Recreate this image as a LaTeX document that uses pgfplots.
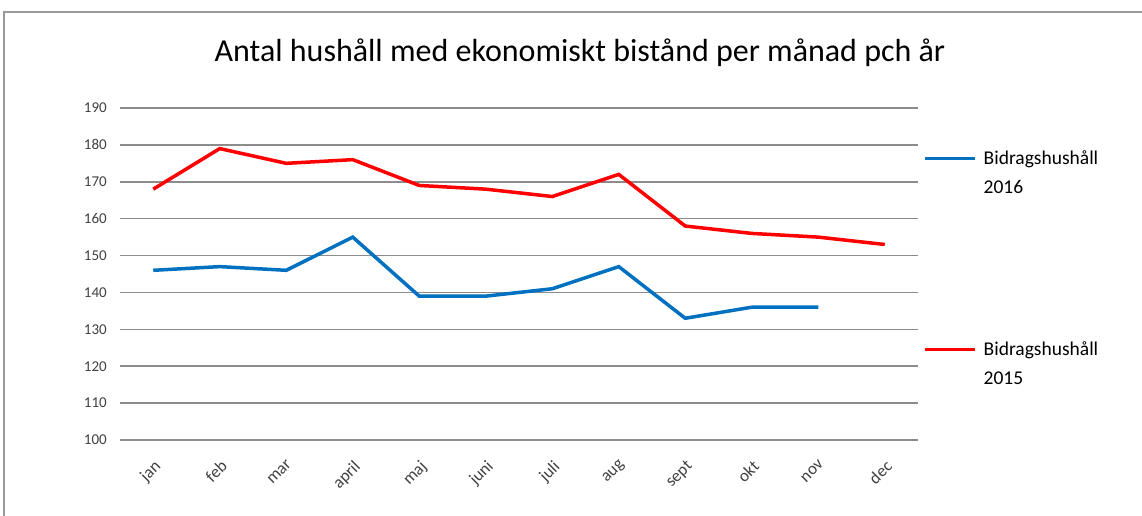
\documentclass[border=0pt]{standalone}
\usepackage{pgfplots}
\pgfplotsset{compat=1.18}
\usepackage{fontspec}
\setmainfont{Carlito}
\definecolor{gridgray}{RGB}{140,140,140}
\definecolor{ticktext}{RGB}{64,64,64}
\definecolor{xlblue}{RGB}{0,112,192}
\definecolor{xlred}{RGB}{255,0,0}
\begin{document}
\begin{tikzpicture}
\path[use as bounding box] (0pt,0pt) rectangle (1142pt,516pt);
% chart area frame
\draw[gray!80, line width=1.2pt] (4pt,0pt) -- (4pt,504pt) -- (1142pt,504pt);
% chart title
\node[font=\fontsize{32}{38}\selectfont, text=black] at (580pt,463pt)
  {Antal hushåll med ekonomiskt bistånd per månad pch år};
\begin{axis}[
  at={(120pt,76pt)}, anchor=south west,
  width=798pt, height=332pt, scale only axis,
  xmin=-0.5, xmax=11.5, ymin=100, ymax=190,
  ytick={100,110,...,190},
  xtick={0,...,11},
  xticklabels={jan,feb,mar,april,maj,juni,juli,aug,sept,okt,nov,dec},
  axis line style={draw=none},
  tick style={draw=none},
  ymajorgrids,
  grid style={gridgray, line width=1.6pt},
  /pgf/number format/assume math mode=true,
  ticklabel style={font=\fontsize{15}{18}\selectfont, text=ticktext},
  yticklabel style={inner sep=0pt, xshift=-13pt},
  xticklabel style={font=\fontsize{17}{20}\selectfont, inner sep=0pt,
    xshift=0pt, yshift=-19pt, rotate=45, anchor=north east},
  legend style={draw=none, fill=none, at={(1,1)}, anchor=north west,
    xshift=2pt, yshift=-38pt, row sep=143pt,
    font=\fontsize{19.5}{29}\selectfont,
    cells={anchor=west, align=left}},
  legend image code/.code={\draw[#1] (0pt,14pt) -- (50pt,14pt);
    \path (55pt,0pt);},
]
\addplot[xlblue, line width=3.5pt] coordinates {
  (0,146) (1,147) (2,146) (3,155) (4,139) (5,139)
  (6,141) (7,147) (8,133) (9,136) (10,136)
};
\addlegendentry{Bidragshushåll\\2016}
\addplot[xlred, line width=3.5pt] coordinates {
  (0,168) (1,179) (2,175) (3,176) (4,169) (5,168)
  (6,166) (7,172) (8,158) (9,156) (10,155) (11,153)
};
\addlegendentry{Bidragshushåll\\2015}
\end{axis}
\end{tikzpicture}
\end{document}
